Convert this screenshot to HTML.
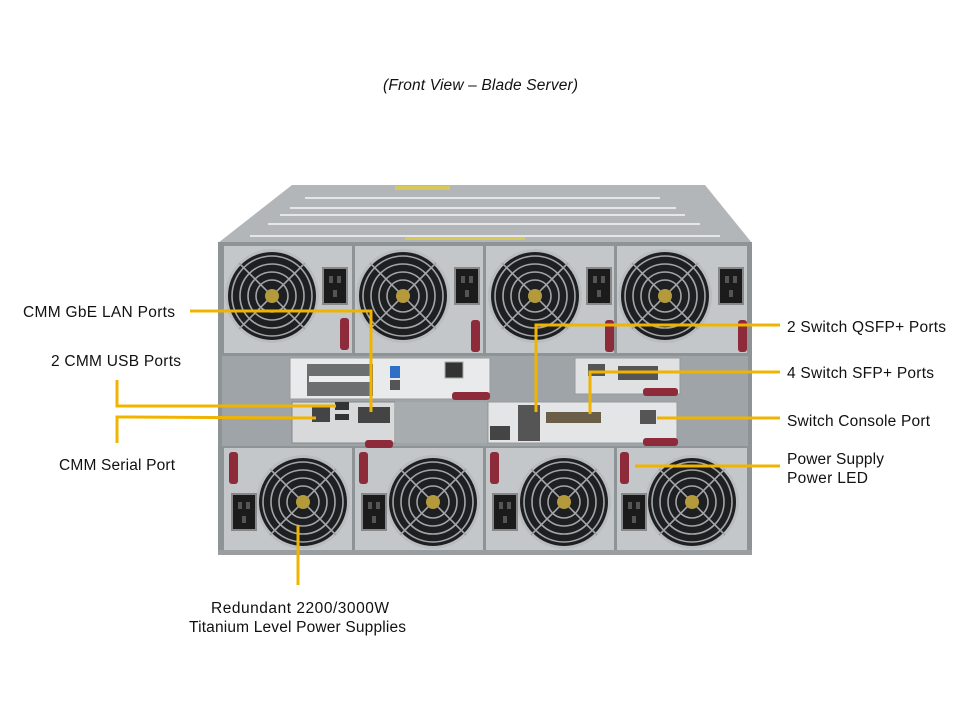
<!DOCTYPE html>
<html><head><meta charset="utf-8"><style>
html,body{margin:0;padding:0;background:#fff;}
svg{display:block;}
text{font-family:"Liberation Sans",Arial,sans-serif;font-size:15.5px;fill:#111;}
</style></head><body>
<svg width="960" height="720" viewBox="0 0 960 720" xmlns="http://www.w3.org/2000/svg">
<defs>
<g id="fan">
  <circle r="47" fill="#b9bdbf"/>
  <circle r="44" fill="#1e1f21"/>
  <g fill="none" stroke="#a3a6a8" stroke-width="1.6">
    <circle r="40"/><circle r="32"/><circle r="24"/><circle r="16"/>
    <line x1="-33" y1="-33" x2="33" y2="33"/><line x1="33" y1="-33" x2="-33" y2="33"/>
  </g>
  <circle r="7" fill="#b59a3c"/>
</g>
<g id="sock">
  <rect x="0" y="0" width="24" height="36" fill="#1b1b1b" stroke="#888" stroke-width="2"/>
  <rect x="6" y="8" width="4" height="7" fill="#555"/><rect x="14" y="8" width="4" height="7" fill="#555"/><rect x="10" y="22" width="4" height="7" fill="#555"/>
</g>
</defs>

<text x="383" y="90" font-style="italic" textLength="195">(Front View – Blade Server)</text>

<polygon points="292,185 705,185 752,243 218,243" fill="#b3b6b8"/>
<g stroke="#e4e6e7" stroke-width="2">
<line x1="305" y1="198" x2="660" y2="198"/>
<line x1="290" y1="208" x2="676" y2="208"/>
<line x1="280" y1="215" x2="685" y2="215"/>
<line x1="268" y1="224" x2="700" y2="224"/>
<line x1="250" y1="236" x2="720" y2="236"/>
</g>
<rect x="395" y="186" width="55" height="4" fill="#d6c95a"/>
<rect x="405" y="237" width="120" height="3" fill="#d6c95a"/>
<rect x="218" y="242" width="534" height="313" fill="#8e9396"/>
<rect x="222" y="356" width="526" height="90" fill="#9ea4a7"/>

<g>
<rect x="224" y="246" width="128" height="107" fill="#c3c7c9"/>
<rect x="355" y="246" width="128" height="107" fill="#c3c7c9"/>
<rect x="486" y="246" width="128" height="107" fill="#c3c7c9"/>
<rect x="617" y="246" width="130" height="107" fill="#c3c7c9"/>
<use href="#fan" x="272" y="296"/><use href="#fan" x="403" y="296"/><use href="#fan" x="535" y="296"/><use href="#fan" x="665" y="296"/>
<use href="#sock" x="323" y="268"/><use href="#sock" x="455" y="268"/><use href="#sock" x="587" y="268"/><use href="#sock" x="719" y="268"/>
<rect x="340" y="318" width="9" height="32" rx="3" fill="#8e2b3a"/>
<rect x="471" y="320" width="9" height="32" rx="3" fill="#8e2b3a"/>
<rect x="605" y="320" width="9" height="32" rx="3" fill="#8e2b3a"/>
<rect x="738" y="320" width="9" height="32" rx="3" fill="#8e2b3a"/>
</g>

<rect x="290" y="358" width="200" height="41" fill="#e8eaeb" stroke="#9a9a9a"/>
<rect x="307" y="364" width="66" height="32" fill="#6c6f70"/>
<rect x="309" y="376" width="62" height="6" fill="#eee"/>
<rect x="390" y="366" width="10" height="12" fill="#2f6fc8"/><rect x="390" y="380" width="10" height="10" fill="#555"/>
<rect x="445" y="362" width="18" height="16" fill="#333" stroke="#aaa"/>
<rect x="452" y="392" width="38" height="8" rx="3" fill="#8e2b3a"/>
<rect x="292" y="402" width="103" height="41" fill="#d7d9da" stroke="#888"/>
<rect x="312" y="406" width="18" height="16" fill="#444"/>
<rect x="335" y="402" width="14" height="8" fill="#333"/><rect x="335" y="414" width="14" height="6" fill="#333"/>
<rect x="358" y="407" width="32" height="16" fill="#444"/>
<rect x="365" y="440" width="28" height="8" rx="3" fill="#8e2b3a"/>
<rect x="395" y="402" width="92" height="41" fill="#a7adaf"/>
<rect x="575" y="358" width="105" height="36" fill="#dfe1e2" stroke="#999"/>
<rect x="588" y="364" width="17" height="12" fill="#555"/><rect x="618" y="366" width="40" height="14" fill="#555"/>
<rect x="643" y="388" width="35" height="8" rx="3" fill="#8e2b3a"/>
<rect x="488" y="402" width="189" height="41" fill="#e3e5e6" stroke="#999"/>
<rect x="518" y="405" width="22" height="36" fill="#555"/>
<rect x="546" y="412" width="55" height="11" fill="#6b5e48"/>
<rect x="490" y="426" width="20" height="14" fill="#444"/>
<rect x="640" y="410" width="16" height="14" fill="#555"/>
<rect x="643" y="438" width="35" height="8" rx="3" fill="#8e2b3a"/>

<g>
<rect x="224" y="448" width="128" height="102" fill="#c3c7c9"/>
<rect x="355" y="448" width="128" height="102" fill="#c3c7c9"/>
<rect x="486" y="448" width="128" height="102" fill="#c3c7c9"/>
<rect x="617" y="448" width="130" height="102" fill="#c3c7c9"/>
<use href="#fan" x="303" y="502"/><use href="#fan" x="433" y="502"/><use href="#fan" x="564" y="502"/><use href="#fan" x="692" y="502"/>
<use href="#sock" x="232" y="494"/><use href="#sock" x="362" y="494"/><use href="#sock" x="493" y="494"/><use href="#sock" x="622" y="494"/>
<rect x="229" y="452" width="9" height="32" rx="3" fill="#8e2b3a"/>
<rect x="359" y="452" width="9" height="32" rx="3" fill="#8e2b3a"/>
<rect x="490" y="452" width="9" height="32" rx="3" fill="#8e2b3a"/>
<rect x="620" y="452" width="9" height="32" rx="3" fill="#8e2b3a"/>
</g>
<rect x="218" y="550" width="534" height="5" fill="#9a9ea0"/>

<g stroke="#f0b400" stroke-width="3" fill="none">
<polyline points="190,311 371,311 371,412"/>
<polyline points="117,380 117,406 336,406"/>
<polyline points="117,443 117,417 316,418"/>
<polyline points="780,325 536,325 536,412"/>
<polyline points="780,372 590,372 590,414"/>
<polyline points="780,418 657,418"/>
<polyline points="780,466 635,466"/>
<polyline points="298,525 298,585"/>
</g>

<text x="23" y="317" textLength="152">CMM GbE LAN Ports</text>
<text x="51" y="366" textLength="130">2 CMM USB Ports</text>
<text x="59" y="470" textLength="116">CMM Serial Port</text>
<text x="787" y="332" textLength="159">2 Switch QSFP+ Ports</text>
<text x="787" y="378" textLength="147">4 Switch SFP+ Ports</text>
<text x="787" y="426" textLength="143">Switch Console Port</text>
<text x="787" y="464" textLength="97">Power Supply</text>
<text x="787" y="483" textLength="81">Power LED</text>
<text x="211" y="613" textLength="178">Redundant  2200/3000W</text>
<text x="189" y="632" textLength="217">Titanium Level Power Supplies</text>
</svg>
</body></html>
